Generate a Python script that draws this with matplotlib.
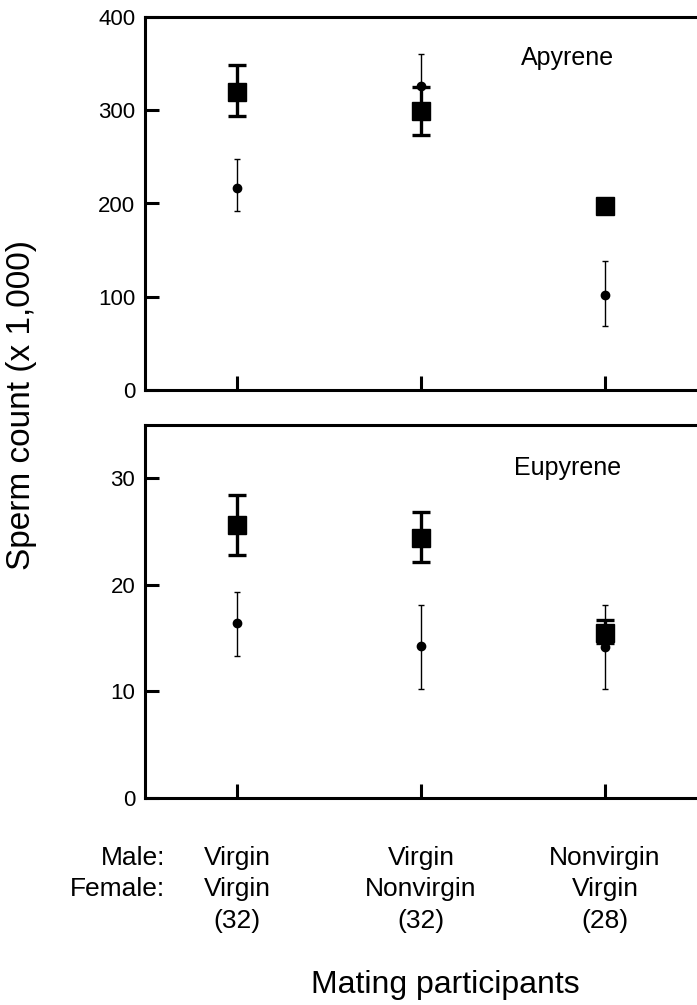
import matplotlib.pyplot as plt

plt.rcParams['font.family'] = ['Liberation Sans', 'DejaVu Sans']

# category positions and labels
groups = [1, 2, 3]
male_labels = ["Virgin", "Virgin", "Nonvirgin"]
female_labels = ["Virgin", "Nonvirgin", "Virgin"]
n_labels = ["(32)", "(32)", "(28)"]

# Apyrene (x 1,000)
apy_sq = [320, 299, 197]
apy_sq_lo = [26, 26, 5]
apy_sq_hi = [28, 26, 5]
apy_ci = [217, 326, 102]
apy_ci_lo = [25, 35, 33]
apy_ci_hi = [31, 34, 36]

# Eupyrene (x 1,000)
eup_sq = [25.6, 24.35, 15.5]
eup_sq_lo = [2.8, 2.25, 1.0]
eup_sq_hi = [2.8, 2.5, 1.2]
eup_ci = [16.4, 14.3, 14.2]
eup_ci_lo = [3.1, 4.1, 4.0]
eup_ci_hi = [2.9, 3.8, 3.9]

W, H = 697, 1005
fig = plt.figure(figsize=(W / 100, H / 100), dpi=100)


def axes_px(left, top, right, bottom):
    return fig.add_axes([left / W, 1 - bottom / H, (right - left) / W, (bottom - top) / H])


def panel(ax, sq, sq_lo, sq_hi, ci, ci_lo, ci_hi, ylim, yticks, name, name_y):
    ax.errorbar(groups, ci, yerr=[ci_lo, ci_hi], fmt='o', color='black',
                markersize=6, elinewidth=1.0, capsize=2.5, capthick=1.0, zorder=3)
    ax.errorbar(groups, sq, yerr=[sq_lo, sq_hi], fmt='s', color='black',
                markersize=13.5, elinewidth=2.4, capsize=6.5, capthick=2.4, zorder=2)
    ax.set_xlim(0.5, 3.5)
    ax.set_ylim(*ylim)
    ax.set_yticks(yticks)
    ax.set_xticks(groups)
    ax.set_xticklabels([])
    ax.tick_params(direction='in', length=10, width=2.2, labelsize=16, pad=7)
    for side in ['left', 'bottom', 'top']:
        ax.spines[side].set_linewidth(2.2)
    ax.spines['right'].set_visible(False)
    ax.text(0.765, name_y, name, transform=ax.transAxes, ha='center', va='center', fontsize=18)


ax1 = axes_px(145, 17, 697, 390)
panel(ax1, apy_sq, apy_sq_lo, apy_sq_hi, apy_ci, apy_ci_lo, apy_ci_hi,
      (0, 400), [0, 100, 200, 300, 400], "Apyrene", 0.89)

ax2 = axes_px(145, 425, 697, 798)
panel(ax2, eup_sq, eup_sq_lo, eup_sq_hi, eup_ci, eup_ci_lo, eup_ci_hi,
      (0, 35), [0, 10, 20, 30], "Eupyrene", 0.885)

fig.text(22 / W, 1 - 405 / H, "Sperm count (x 1,000)", rotation=90,
         ha='center', va='center', fontsize=24)

# category labels under the lower panel
lbl = dict(ha='center', va='center', fontsize=19, transform=ax2.get_xaxis_transform())
row_y = [-0.16, -0.245, -0.33]
ax2.text(0.61, row_y[0], "Male:", ha='right', va='center', fontsize=19,
         transform=ax2.get_xaxis_transform())
ax2.text(0.61, row_y[1], "Female:", ha='right', va='center', fontsize=19,
         transform=ax2.get_xaxis_transform())
for g, m, f, n in zip(groups, male_labels, female_labels, n_labels):
    ax2.text(g, row_y[0], m, **lbl)
    ax2.text(g, row_y[1], f, **lbl)
    ax2.text(g, row_y[2], n, **lbl)

fig.text(445 / W, 1 - 985 / H, "Mating participants", ha='center', va='center', fontsize=23)

fig.savefig("out.png", dpi=100)
